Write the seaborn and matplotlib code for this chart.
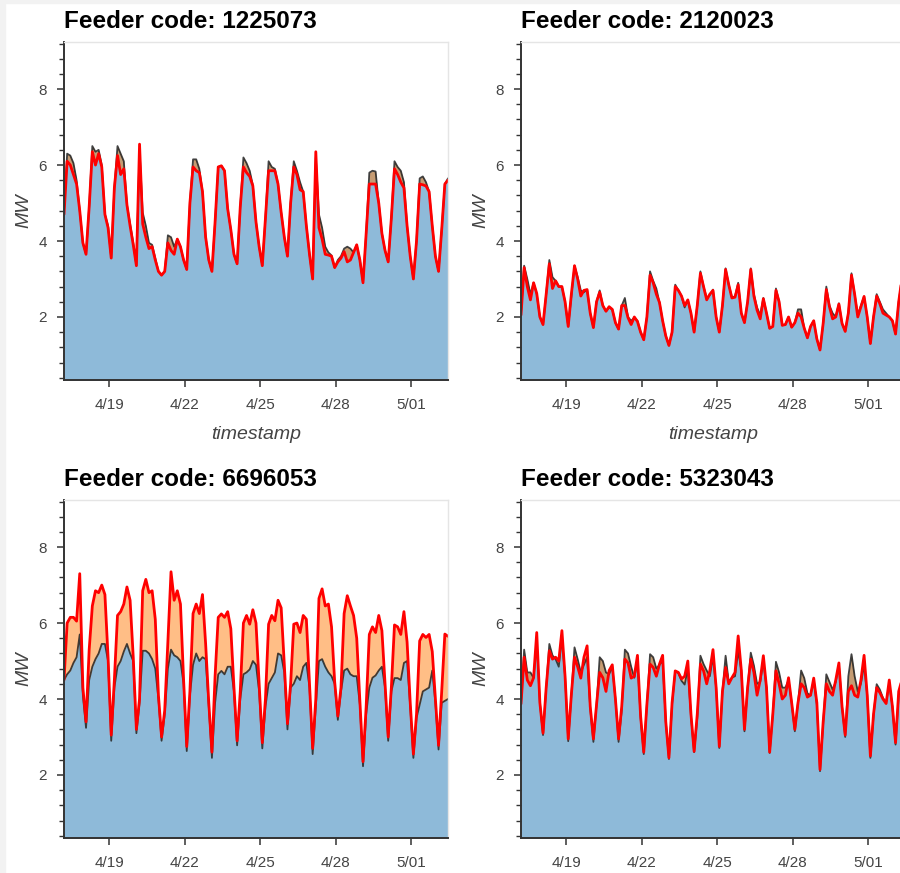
import pandas as pd
import matplotlib
matplotlib.use("Agg")
import matplotlib.pyplot as plt
import matplotlib.ticker as mticker
from matplotlib.patches import Rectangle
import seaborn as sns

# Feeder codes in panel order (top-left, top-right, bottom-left, bottom-right)
feeders = ["1225073", "2120023", "6696053", "5323043"]

# 3-hourly samples
start = "2020-04-17 05:00"
step = "3h"
tick_dates = ["2020-04-19", "2020-04-22", "2020-04-25", "2020-04-28", "2020-05-01"]
tick_labels = ["4/19", "4/22", "4/25", "4/28", "5/01"]

actual_1225073 = [
    4.8, 6.3, 6.25, 6.05, 5.6, 4.8, 3.95, 3.65, 4.9, 6.5,
    6.35, 6.4, 6.0, 4.7, 4.4, 3.55, 5.4, 6.5, 6.3, 6.1,
    4.95, 4.45, 3.95, 3.35, 6.4, 4.75, 4.4, 3.95, 3.9, 3.55,
    3.2, 3.1, 3.2, 4.15, 4.1, 3.85, 4.05, 3.85, 3.5, 3.25,
    5.0, 6.15, 6.15, 5.9, 5.3, 4.1, 3.5, 3.2, 4.5, 5.95,
    5.98, 5.85, 4.85, 4.3, 3.65, 3.4, 4.9, 6.2, 6.05, 5.85,
    5.47, 4.5, 3.85, 3.35, 4.6, 6.1, 5.95, 5.9, 5.5, 4.75,
    4.1, 3.6, 5.0, 6.1, 5.85, 5.55, 5.3, 4.4, 3.65, 3.0,
    6.2, 4.7, 4.35, 3.85, 3.7, 3.62, 3.3, 3.5, 3.6, 3.8,
    3.85, 3.8, 3.7, 3.9, 3.5, 2.9, 4.2, 5.8, 5.85, 5.83,
    5.0, 4.2, 3.75, 3.45, 4.6, 6.1, 5.95, 5.85, 5.55, 4.4,
    3.6, 3.0, 4.0, 5.65, 5.7, 5.55, 5.3, 4.4, 3.6, 3.2,
    4.3, 5.5, 5.65,
]
forecast_1225073 = [
    4.7, 6.1, 6.0, 5.75, 5.5, 4.8, 3.95, 3.65, 4.9, 6.35,
    6.0, 6.3, 5.95, 4.7, 4.35, 3.55, 5.4, 6.25, 5.75, 5.9,
    4.95, 4.4, 3.9, 3.35, 6.55, 4.45, 4.1, 3.8, 3.85, 3.5,
    3.2, 3.1, 3.2, 3.95, 3.75, 3.65, 4.05, 3.85, 3.5, 3.25,
    5.0, 5.95, 5.85, 5.8, 5.3, 4.1, 3.5, 3.2, 4.5, 5.95,
    5.98, 5.85, 4.85, 4.3, 3.65, 3.4, 4.9, 5.95, 5.8, 5.7,
    5.45, 4.5, 3.85, 3.35, 4.6, 5.85, 5.85, 5.85, 5.5, 4.75,
    4.1, 3.6, 5.0, 5.95, 5.75, 5.35, 5.3, 4.4, 3.65, 3.0,
    6.35, 4.35, 4.05, 3.65, 3.63, 3.6, 3.3, 3.45, 3.55, 3.72,
    3.45, 3.5, 3.7, 3.9, 3.5, 2.9, 4.2, 5.5, 5.5, 5.5,
    5.0, 4.2, 3.75, 3.45, 4.6, 5.9, 5.75, 5.55, 5.4, 4.4,
    3.6, 3.0, 4.0, 5.5, 5.48, 5.45, 5.3, 4.4, 3.6, 3.2,
    4.3, 5.5, 5.6,
]

actual_2120023 = [
    2.1, 3.35, 3.0, 2.6, 2.9, 2.6, 2.0, 1.8, 2.6, 3.5,
    3.05, 2.95, 2.8, 2.8, 2.4, 1.75, 2.55, 3.35, 3.05, 2.7,
    2.65, 2.72, 2.1, 1.72, 2.4, 2.7, 2.3, 2.15, 2.25, 2.2,
    1.85, 1.68, 2.3, 2.5, 2.0, 1.9, 1.98, 1.9, 1.6, 1.4,
    2.0, 3.2, 2.95, 2.75, 2.38, 1.9, 1.5, 1.25, 1.6, 2.85,
    2.7, 2.55, 2.25, 2.45, 2.1, 1.6, 2.3, 3.2, 2.8, 2.5,
    2.58, 2.72, 2.0, 1.6, 2.3, 3.28, 2.85, 2.52, 2.54, 2.9,
    2.1, 1.85, 2.4, 3.28, 2.6, 2.25, 2.05, 2.5, 2.1, 1.7,
    1.75, 2.75, 2.4, 1.78, 1.8, 2.0, 1.73, 1.85, 2.2, 2.2,
    1.7, 1.45, 1.75, 1.9, 1.42, 1.13, 1.83, 2.8, 2.3, 2.1,
    2.0, 2.36, 1.83, 1.62, 2.1, 3.15, 2.6, 2.05, 2.3, 2.54,
    2.0, 1.3, 2.0, 2.6, 2.4, 2.2, 2.1, 2.0, 1.9, 1.55,
    2.4, 3.0, 2.9,
]
forecast_2120023 = [
    2.05, 3.3, 2.8, 2.45, 2.9, 2.62, 2.0, 1.8, 2.6, 3.4,
    2.75, 2.95, 2.8, 2.8, 2.4, 1.75, 2.6, 3.35, 3.0, 2.55,
    2.7, 2.72, 2.1, 1.72, 2.4, 2.65, 2.3, 2.15, 2.27, 2.2,
    1.85, 1.68, 2.3, 2.3, 1.98, 1.8, 2.0, 1.88, 1.6, 1.4,
    2.0, 3.1, 2.9, 2.6, 2.38, 1.9, 1.5, 1.25, 1.6, 2.8,
    2.7, 2.55, 2.3, 2.45, 2.1, 1.6, 2.3, 3.15, 2.8, 2.45,
    2.6, 2.7, 2.0, 1.6, 2.3, 3.25, 2.85, 2.5, 2.52, 2.85,
    2.1, 1.85, 2.4, 3.25, 2.55, 2.18, 1.95, 2.48, 2.1, 1.7,
    1.75, 2.7, 2.4, 1.78, 1.8, 2.0, 1.73, 1.85, 2.1, 2.0,
    1.7, 1.45, 1.75, 1.9, 1.42, 1.13, 1.83, 2.72, 2.27, 1.95,
    2.0, 2.34, 1.83, 1.62, 2.1, 3.1, 2.6, 2.0, 2.27, 2.54,
    2.0, 1.3, 2.0, 2.55, 2.35, 2.1, 2.05, 2.0, 1.9, 1.55,
    2.4, 3.0, 2.9,
]

actual_6696053 = [
    4.5, 4.65, 4.75, 4.95, 5.1, 5.7, 4.1, 3.24, 4.5, 4.85,
    5.05, 5.2, 5.45, 5.45, 5.0, 2.9, 4.3, 4.85, 5.0, 5.25,
    5.45, 5.2, 5.0, 3.1, 3.9, 5.27, 5.27, 5.2, 5.05, 4.8,
    4.0, 2.9, 3.6, 4.8, 5.3, 5.15, 5.1, 5.0, 4.4, 2.63,
    4.1, 4.9, 5.2, 5.0, 5.1, 5.05, 3.8, 2.45, 3.9, 4.65,
    4.74, 4.65, 4.85, 4.85, 4.2, 2.78, 4.0, 4.65, 4.7, 4.78,
    5.0, 4.9, 4.2, 2.7, 3.8, 4.4, 4.55, 4.7, 5.2, 5.15,
    4.7, 3.2, 4.3, 4.4, 4.6, 4.5, 4.85, 4.95, 4.3, 2.55,
    3.8, 5.0, 5.05, 4.85, 4.7, 4.6, 4.4, 3.45, 4.2, 4.75,
    4.8, 4.65, 4.6, 4.6, 3.85, 2.23, 3.6, 4.3, 4.56, 4.62,
    4.75, 4.85, 4.3, 2.9, 4.2, 4.55, 4.55, 4.5, 4.95, 5.0,
    3.8, 2.45, 3.5, 3.85, 4.2, 4.25, 4.3, 4.75, 3.9, 2.67,
    3.9, 3.95, 4.0,
]
forecast_6696053 = [
    4.5, 6.0, 6.15, 6.15, 6.05, 7.3, 4.3, 3.4, 5.3, 6.45,
    6.85, 6.8, 7.0, 6.75, 5.1, 3.05, 4.5, 6.2, 6.3, 6.5,
    6.95, 6.6, 5.1, 3.2, 4.0, 6.85, 7.15, 6.8, 6.85, 6.1,
    4.1, 3.0, 3.7, 5.5, 7.35, 6.6, 6.85, 6.5, 4.5, 2.75,
    4.2, 6.25, 6.5, 6.25, 6.75, 5.45, 3.9, 2.6, 4.6, 6.15,
    6.24, 6.15, 6.3, 5.85, 4.3, 2.9, 4.2, 6.0, 6.2, 5.97,
    6.35, 6.0, 4.4, 2.85, 4.0, 5.97, 6.2, 6.06, 6.6, 6.4,
    4.9, 3.35, 4.4, 5.97, 6.0, 5.75, 6.2, 6.1, 4.4, 2.7,
    4.0, 6.65, 6.9, 6.45, 6.5, 5.9, 4.45, 3.55, 4.3, 6.25,
    6.72, 6.45, 6.2, 5.6, 3.95, 2.35, 3.8, 5.7, 5.9, 5.75,
    6.2, 5.8, 4.4, 3.0, 4.3, 5.95, 5.9, 5.7, 6.3, 5.5,
    3.9, 2.55, 3.6, 5.53, 5.7, 5.62, 5.7, 5.25, 4.0, 2.78,
    4.2, 5.71, 5.65,
]

actual_5323043 = [
    3.9, 5.3, 4.7, 4.7, 4.56, 5.5, 3.9, 3.05, 4.3, 5.45,
    5.15, 5.05, 4.85, 5.6, 4.6, 2.89, 4.1, 5.36, 5.05, 4.7,
    4.9, 5.1, 3.75, 2.87, 3.85, 5.1, 5.0, 4.7, 4.65, 4.85,
    4.0, 2.87, 3.7, 5.3, 5.2, 4.85, 4.56, 5.0, 3.5, 2.55,
    3.86, 5.18, 5.1, 4.8, 4.9, 5.0, 3.4, 2.42, 3.86, 4.74,
    4.68, 4.48, 4.38, 4.8, 3.55, 2.6, 3.5, 5.14, 4.92, 4.75,
    4.6, 5.1, 4.3, 2.71, 4.2, 5.14, 4.45, 4.56, 4.6, 5.27,
    4.75, 3.15, 4.3, 5.22, 4.88, 4.4, 4.45, 5.0, 4.3, 2.58,
    3.6, 4.98, 4.7, 4.3, 4.3, 4.5, 3.9, 3.15, 3.9, 4.75,
    4.55, 4.15, 4.1, 4.5, 3.85, 2.1, 3.35, 4.65, 4.45, 4.25,
    4.45, 4.9, 3.8, 3.0, 4.6, 5.18, 4.6, 4.2, 4.4, 4.9,
    4.1, 2.45, 3.55, 4.39, 4.25, 4.03, 3.9, 4.4, 3.8, 2.8,
    4.1, 4.3, 4.4,
]
forecast_5323043 = [
    3.87, 5.1, 4.5, 4.35, 4.56, 5.75, 3.9, 3.1, 4.3, 5.27,
    5.05, 5.1, 5.0, 5.8, 4.6, 2.95, 4.12, 5.1, 4.85, 4.55,
    5.1, 5.4, 3.8, 2.95, 3.85, 4.7, 4.56, 4.2, 4.75, 4.9,
    4.0, 2.95, 3.8, 5.05, 4.95, 4.55, 4.6, 5.15, 3.55, 2.6,
    3.86, 4.92, 4.83, 4.6, 4.92, 5.15, 3.4, 2.45, 3.9, 4.74,
    4.7, 4.53, 4.6, 5.0, 3.6, 2.62, 3.6, 4.92, 4.74, 4.4,
    4.75, 5.3, 4.3, 2.75, 4.2, 4.83, 4.4, 4.56, 4.7, 5.66,
    4.75, 3.2, 4.3, 5.05, 4.7, 4.1, 4.5, 5.14, 4.3, 2.6,
    3.6, 4.74, 4.4, 4.0, 4.1, 4.56, 3.9, 3.2, 3.9, 4.4,
    4.3, 4.05, 4.1, 4.55, 3.9, 2.14, 3.4, 4.4, 4.2, 4.1,
    4.5, 4.95, 3.8, 3.05, 4.2, 4.35, 4.1, 4.05, 4.5, 5.15,
    4.1, 2.5, 3.6, 4.3, 4.17, 4.0, 3.88, 4.5, 3.8, 2.85,
    4.2, 4.5, 4.6,
]

series = {
    "1225073": (actual_1225073, forecast_1225073),
    "2120023": (actual_2120023, forecast_2120023),
    "6696053": (actual_6696053, forecast_6696053),
    "5323043": (actual_5323043, forecast_5323043),
}

sns.set_style("ticks")
plt.rcParams["font.family"] = ["Liberation Sans", "DejaVu Sans"]

W, H = 900, 873
fig = plt.figure(figsize=(W / 100, H / 100), dpi=100)
fig.patch.set_facecolor("white")
# thin grey page border seen on the left/top of the screenshot
fig.patches.append(Rectangle((0, 0), 5 / W, 1, transform=fig.transFigure,
                             color="#f2f2f2", zorder=-1))
fig.patches.append(Rectangle((0, 1 - 3 / H), 1, 3 / H, transform=fig.transFigure,
                             color="#f2f2f2", zorder=-1))

# panel boxes in pixels: left, top
boxes = [(64, 42), (521, 42), (64, 500), (521, 500)]
aw, ah = 384, 338
grey = "#444444"

for k, code in enumerate(feeders):
    left, top = boxes[k]
    ax = fig.add_axes([left / W, (H - top - ah) / H, aw / W, ah / H])
    actual, forecast = series[code]
    times = pd.date_range(start, periods=len(actual), freq=step)
    df = pd.DataFrame({"timestamp": times, "actual": actual, "forecast": forecast})

    ax.fill_between(df["timestamp"], 0, df["actual"], color="#1f77b4", alpha=0.5, lw=0)
    ax.fill_between(df["timestamp"], df["actual"], df["forecast"], color="#ff7f0e",
                    alpha=0.5, lw=0)
    sns.lineplot(data=df, x="timestamp", y="actual", color="#222222", lw=1.3,
                 alpha=0.85, estimator=None, ax=ax)
    sns.lineplot(data=df, x="timestamp", y="forecast", color="#ff0000", lw=2.0,
                 estimator=None, ax=ax)

    ax.set_xlim(times[0], times[-1])
    ax.set_ylim(0.34, 9.24)
    ax.set_xticks(pd.to_datetime(tick_dates))
    ax.set_xticklabels(tick_labels)
    ax.yaxis.set_major_locator(mticker.FixedLocator([2, 4, 6, 8]))
    ax.yaxis.set_minor_locator(mticker.MultipleLocator(0.4))
    ax.xaxis.set_minor_locator(mticker.NullLocator())

    for side in ["left", "bottom"]:
        ax.spines[side].set_color("#333333")
        ax.spines[side].set_linewidth(1.4)
    for side in ["top", "right"]:
        ax.spines[side].set_color("#e5e5e5")
        ax.spines[side].set_linewidth(1.0)

    ax.tick_params(axis="both", which="major", length=5, width=1.1, color="#333333",
                   labelcolor=grey, labelsize=11)
    ax.tick_params(axis="y", which="minor", length=3.5, width=1.0, color="#333333")
    ax.tick_params(axis="x", which="major", pad=8)
    ax.tick_params(axis="y", which="major", pad=7.4)

    ax.set_ylabel("MW", fontstyle="italic", color=grey, fontsize=14)
    ax.yaxis.set_label_coords(-32 / aw, 0.5)
    if k < 2:
        ax.set_xlabel("timestamp", fontstyle="italic", color=grey, fontsize=14)
        ax.xaxis.set_label_coords(0.5, -46 / ah)
    else:
        ax.set_xlabel("")

    ax.set_title(f"Feeder code: {code}", loc="left", fontsize=17.5,
                 fontweight="bold", color="black", pad=10)

fig.savefig("out.png", dpi=100)
